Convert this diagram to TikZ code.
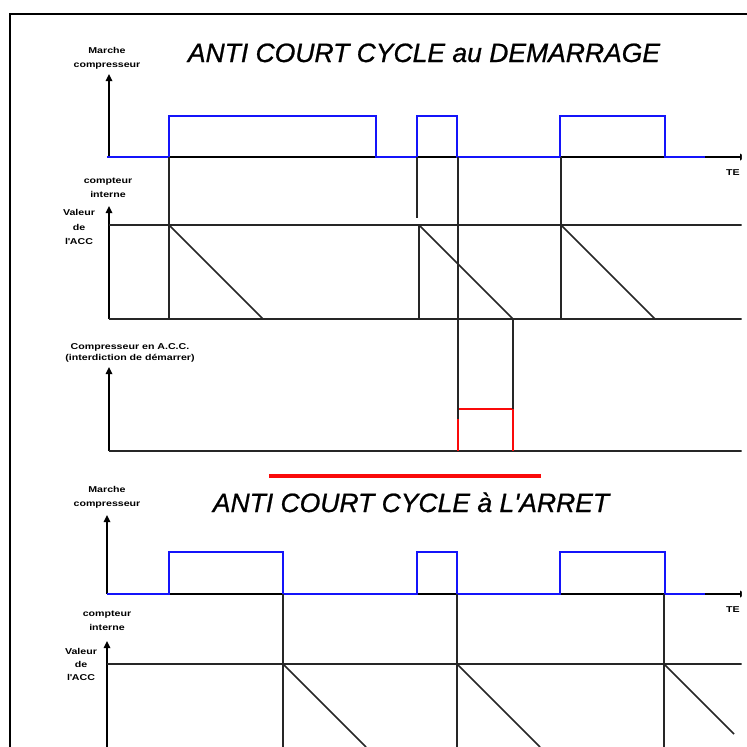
\documentclass[tikz,border=0pt]{standalone}
\usepackage{fontspec}
\setmainfont{Liberation Sans}
\newfontfamily\lblfont[FakeStretch=1.25]{Liberation Sans}
\newfontfamily\ttlfont[FakeBold=0.8]{Liberation Sans}
\usepackage{tikz}
\usepackage{xcolor}
\usetikzlibrary{arrows.meta, positioning, calc}
\definecolor{cBlue}{RGB}{20,20,250}
\definecolor{cRed}{RGB}{250,10,10}
\tikzset{
	axis/.style     ={-{Triangle[length=7pt,width=6.5pt]}, line width=1.6pt},
	trace/.style    ={line width=1.6pt, black!85},
	onoff/.style    ={line width=1.9pt, cBlue},
	acc/.style      ={line width=1.6pt, cRed},
	lbl/.style      ={font=\lblfont\bfseries\fontsize{8.5}{14}\selectfont, align=center, inner sep=0pt},
	ttl/.style      ={font=\ttlfont\fontsize{26.5}{30}\selectfont\itshape, anchor=base, inner sep=0pt},
}

\begin{document}
\begin{tikzpicture}[x=1pt, y=-1pt]
	\useasboundingbox (0,0) rectangle (747,747);
	\fill[white] (0,0) rectangle (747,747);
	% frame
	\draw[line width=2.5pt] (747,14) -- (10,14) -- (10,747);

	\begin{scope}
	\clip (0,0) rectangle (741.5,747);

	% --- ACC at start ---
	\node[ttl] (ttlStart) at (424,62) {ANTI COURT CYCLE au DEMARRAGE};
	\node[lbl] (lblRunA) at (107,58) {Marche\\compresseur};
	\node[lbl] (lblCntA) at (108,188) {compteur\\interne};
	\node[lbl, font=\lblfont\bfseries\fontsize{8.5}{14.5}\selectfont] (lblValA) at (79,227) {Valeur\\de\\l\textquotesingle ACC};
	\node[lbl, font=\lblfont\bfseries\fontsize{8.5}{11.5}\selectfont] (lblLock) at (130,353) {Compresseur en A.C.C.\\(interdiction de démarrer)};
	\node[lbl, anchor=west] (lblTimeA) at (726,173) {TE};

	% run signal
	\draw[axis] (109,157) -- (109,74);
	\draw[axis] (109,157) -- (747,157);
	\draw[onoff] (107,157) -- (169,157) -- (169,116) -- (376,116) -- (376,157) -- (417,157) -- (417,116)
		-- (457,116) -- (457,157) -- (560,157) -- (560,116) -- (665,116) -- (665,157) -- (705,157);

	% internal counter
	\draw[axis] (109,319) -- (109,206);
	\draw[trace] (109,225) -- (747,225);
	\draw[trace] (109,319) -- (747,319);
	\draw[trace] (169,157) -- (169,319);
	\draw[trace] (417,157) -- (417,218);
	\draw[trace] (419,225) -- (419,319);
	\draw[trace] (561,157) -- (561,319);
	\draw[trace] (169,225) -- (263,319);
	\draw[trace] (419,225) -- (513,319);
	\draw[trace] (561,225) -- (655,319);

	% start lock
	\draw[axis] (109,451) -- (109,367);
	\draw[trace] (109,451) -- (747,451);
	\draw[acc] (458,451) -- (458,409) -- (513,409) -- (513,451);
	\draw[trace] (458,157) -- (458,419);
	\draw[trace] (513,319) -- (513,409);

	\draw[cRed, line width=4pt] (269,476) -- (541,476);

	% --- ACC at stop ---
	\node[ttl] (ttlStop) at (411,512) {ANTI COURT CYCLE à L\textquotesingle ARRET};
	\node[lbl] (lblRunB) at (107,497) {Marche\\compresseur};
	\node[lbl] (lblCntB) at (107,621) {compteur\\interne};
	\node[lbl, font=\lblfont\bfseries\fontsize{8.5}{13}\selectfont] (lblValB) at (81,664) {Valeur\\de\\l\textquotesingle ACC};
	\node[lbl, anchor=west] (lblTimeB) at (726,610) {TE};

	% run signal
	\draw[axis] (107,594) -- (107,515);
	\draw[axis] (107,594) -- (747,594);
	\draw[onoff] (107,594) -- (169,594) -- (169,552) -- (283,552) -- (283,594) -- (417,594) -- (417,552)
		-- (457,552) -- (457,594) -- (560,594) -- (560,552) -- (665,552) -- (665,594) -- (705,594);

	% internal counter
	\draw[axis] (107,747) -- (107,641);
	\draw[trace] (107,664) -- (747,664);
	\draw[trace] (283,594) -- (283,747);
	\draw[trace] (457,594) -- (457,747);
	\draw[trace] (664,594) -- (664,747);
	\draw[trace] (283,664) -- (366,747);
	\draw[trace] (457,664) -- (540,747);
	\draw[trace] (664,664) -- (734,734);
	\end{scope}
\end{tikzpicture}
\end{document}
